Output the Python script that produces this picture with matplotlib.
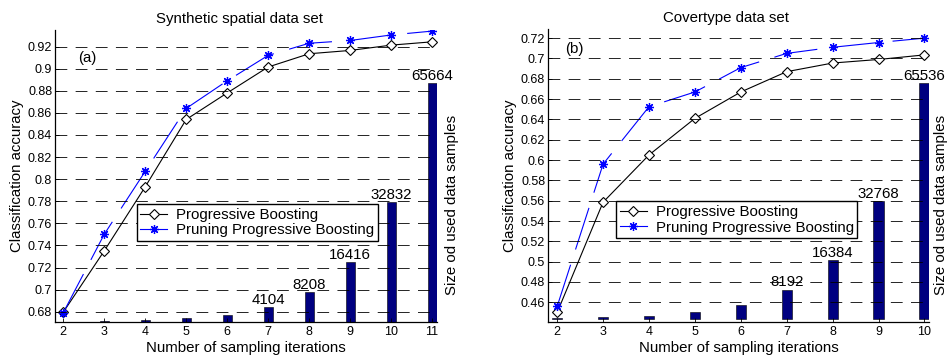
import matplotlib
matplotlib.use('Agg')
import matplotlib.pyplot as plt
from matplotlib.lines import Line2D

plt.rcParams['font.family'] = ['Liberation Sans', 'DejaVu Sans']
plt.rcParams['lines.scale_dashes'] = False

# Panel (a): synthetic spatial data set
iters_a = [2, 3, 4, 5, 6, 7, 8, 9, 10, 11]
pb_a = [0.6795, 0.735, 0.793, 0.854, 0.878, 0.9015, 0.9135, 0.9165, 0.9213, 0.9243]
ppb_a = [0.679, 0.750, 0.807, 0.864, 0.889, 0.912, 0.923, 0.9255, 0.9305, 0.934]
sizes_a = [128, 256, 513, 1026, 2052, 4104, 8208, 16416, 32832, 65664]

# Panel (b): covertype data set
iters_b = [2, 3, 4, 5, 6, 7, 8, 9, 10]
pb_b = [0.450, 0.5585, 0.605, 0.641, 0.667, 0.687, 0.6955, 0.699, 0.7035]
ppb_b = [0.456, 0.596, 0.6525, 0.667, 0.691, 0.705, 0.711, 0.7157, 0.720]
sizes_b = [256, 512, 1024, 2048, 4096, 8192, 16384, 32768, 65536]

navy = '#000080'
blue = '#0000ff'
fs = 10.8


def panel(ax, iters, pb, ppb, sizes, title, tag, tag_xy, ylim, yticks,
          xlim, size_ylim, title_x, leg_anchor, size_label_x):
    axb = ax.twinx()
    ax.set_zorder(axb.get_zorder() + 1)
    ax.patch.set_visible(False)

    # bars with sample sizes (right, hidden scale)
    axb.bar(iters, sizes, width=0.22, color=navy, edgecolor='k', linewidth=0.4)
    for x, v in zip(iters, sizes):
        if x >= 7:
            axb.annotate(str(v), (x, v), xytext=(0, 2.5), textcoords='offset points',
                         ha='center', va='baseline', fontsize=fs)
    axb.set_ylim(*size_ylim)
    axb.set_yticks([])
    for s in axb.spines.values():
        s.set_visible(False)
    axb.set_ylabel('Size od used data samples', fontsize=fs)
    axb.yaxis.set_label_coords(size_label_x, 0.40)

    # accuracy curves
    ax.plot(iters, pb, color='k', lw=0.8, marker='D', ms=5.3,
            mfc='white', mec='k', mew=0.8)
    ax.plot(iters, ppb, color=blue, lw=0.8, ls=(0, (31.5, 11.5)),
            marker=(8, 2, 0), ms=6.5, mec=blue, mew=0.9)

    ax.set_xlim(*xlim)
    ax.set_ylim(*ylim)
    ax.set_xticks(iters)
    ax.set_yticks(yticks)
    ax.set_yticklabels(['%g' % round(t, 2) for t in yticks])
    ax.tick_params(axis='both', direction='in', length=3, width=0.6)
    ax.tick_params(axis='y', labelsize=9, pad=2)
    ax.tick_params(axis='x', labelsize=9, pad=3)
    ax.spines['top'].set_visible(False)
    ax.spines['right'].set_visible(False)
    for s in ['left', 'bottom']:
        ax.spines[s].set_linewidth(0.9)
    ax.yaxis.grid(True, color='k', lw=0.6, ls=(0, (8.5, 6)))
    ax.set_axisbelow(False)

    ax.set_xlabel('Number of sampling iterations', fontsize=fs, labelpad=2)
    ax.set_ylabel('Classification accuracy', fontsize=fs, labelpad=3)
    ax.set_title(title, fontsize=fs, x=title_x, pad=5)
    ax.text(tag_xy[0], tag_xy[1], tag, fontsize=fs, ha='left', va='center')

    handles = [
        Line2D([], [], color='k', lw=0.8, marker='D', ms=5.3, mfc='white', mec='k', mew=0.8),
        Line2D([], [], color=blue, lw=0.8, marker=(8, 2, 0), ms=6.5, mec=blue, mew=0.9),
    ]
    leg = ax.legend(handles, ['Progressive Boosting', 'Pruning Progressive Boosting'],
                    loc='upper left', bbox_to_anchor=leg_anchor, fontsize=fs,
                    fancybox=False, framealpha=1, edgecolor='k',
                    handlelength=1.8, handletextpad=0.6, borderpad=0.25,
                    labelspacing=0.1, borderaxespad=0)
    leg.get_frame().set_linewidth(1.0)


fig = plt.figure(figsize=(9.48, 3.59), dpi=100)
ax1 = fig.add_axes([55 / 948, 37 / 359, 382 / 948, 292 / 359])
ax2 = fig.add_axes([548 / 948, 36.7 / 359, 381 / 948, 293.3 / 359])

panel(ax1, iters_a, pb_a, ppb_a, sizes_a, 'Synthetic spatial data set', '(a)',
      (2.37, 0.9095), (0.6707, 0.935), [0.68 + 0.02 * i for i in range(13)],
      (1.8, 11.12), (0, 80225), 0.4835, (0.214, 0.404), 1.022)
panel(ax2, iters_b, pb_b, ppb_b, sizes_b, 'Covertype data set', '(b)',
      (2.18, 0.709), (0.4403, 0.729), [0.46 + 0.02 * i for i in range(14)],
      (1.8, 10.1), (-830, 80555), 0.467, (0.178, 0.412), 1.013)

fig.savefig('out.png', dpi=100)
